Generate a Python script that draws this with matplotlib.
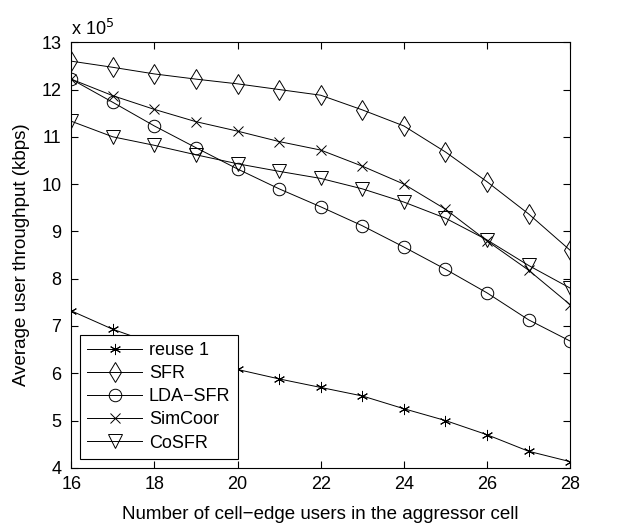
import matplotlib
matplotlib.use('Agg')
import matplotlib.pyplot as plt
import numpy as np

plt.rcParams['font.family'] = ['Liberation Sans', 'DejaVu Sans']

users = [16, 17, 18, 19, 20, 21, 22, 23, 24, 25, 26, 27, 28]

# throughput in units of 1e5 kbps
reuse1 = [7.32, 6.93, 6.62, 6.33, 6.08, 5.88, 5.70, 5.52, 5.25, 5.00, 4.70, 4.35, 4.13]
sfr = [12.60, 12.47, 12.33, 12.22, 12.12, 12.00, 11.88, 11.57, 11.23, 10.68, 10.05, 9.37, 8.60]
lda_sfr = [12.22, 11.73, 11.23, 10.77, 10.32, 9.90, 9.52, 9.12, 8.67, 8.20, 7.70, 7.13, 6.68]
simcoor = [12.22, 11.87, 11.58, 11.32, 11.12, 10.90, 10.72, 10.38, 10.00, 9.47, 8.80, 8.18, 7.45]
cosfr = [11.33, 11.00, 10.82, 10.62, 10.43, 10.27, 10.12, 9.90, 9.62, 9.28, 8.82, 8.28, 7.80]

fig = plt.figure(figsize=(6.3, 5.28), dpi=100)
ax = fig.add_axes([0.113, 0.114, 0.792, 0.806])

kw = dict(color='black', linewidth=0.7, markerfacecolor='none',
          markeredgecolor='black', markeredgewidth=0.7)
ax.plot(users, reuse1, marker=(6, 2, 0), markersize=8, label='reuse 1', **kw)
ax.plot(users, sfr, marker='d', markersize=10, label='SFR', **kw)
ax.plot(users, lda_sfr, marker='o', markersize=9, label='LDA\u2212SFR', **kw)
ax.plot(users, simcoor, marker='x', markersize=7, label='SimCoor', **kw)
ax.plot(users, cosfr, marker='v', markersize=10, label='CoSFR', **kw)

ax.set_xlim(16, 28)
ax.set_ylim(4, 13)
ax.set_xticks(np.arange(16, 29, 2))
ax.set_yticks(np.arange(4, 14, 1))
ax.tick_params(direction='in', top=True, right=True, labelsize=13, length=5)
ax.tick_params(axis='x', pad=6)
ax.tick_params(axis='y', pad=7)
for s in ax.spines.values():
    s.set_linewidth(0.8)

ax.text(0.0, 1.008, 'x 10$^5$', transform=ax.transAxes, fontsize=13,
        ha='left', va='bottom')
ax.set_xlabel('Number of cell\u2212edge users in the aggressor cell', fontsize=13.5, labelpad=9)
ax.set_ylabel('Average user throughput (kbps)', fontsize=13.5, labelpad=8)

leg = ax.legend(loc='lower left', fontsize=13, frameon=True, fancybox=False,
                edgecolor='black', framealpha=1, borderaxespad=0.5,
                handlelength=3.0, labelspacing=0.34, borderpad=0.4,
                handletextpad=0.4, bbox_to_anchor=(0.0, 0.0))
leg.get_frame().set_linewidth(0.8)

fig.savefig('out.png', dpi=100)
